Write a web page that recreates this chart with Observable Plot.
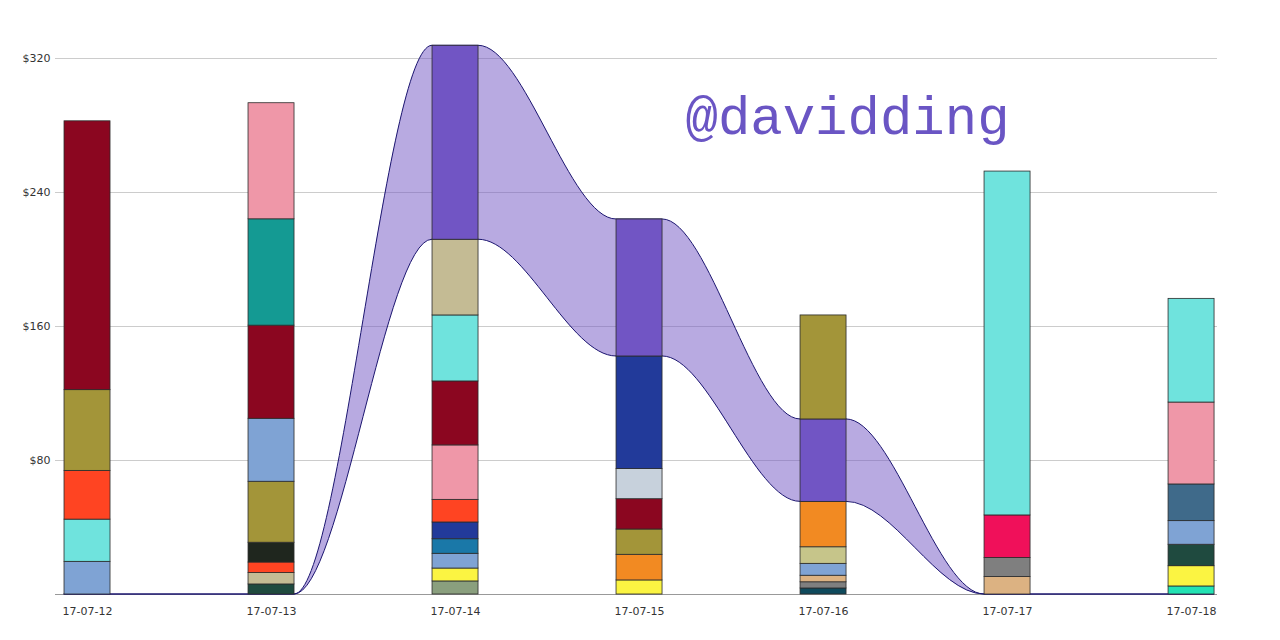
<!DOCTYPE html>
<html>
<head>
<meta charset="utf-8">
<script src="https://cdn.jsdelivr.net/npm/d3@7"></script>
<script src="https://cdn.jsdelivr.net/npm/@observablehq/plot@0.6"></script>
<style>
  body { margin: 0; background: #fff; }
  #chart svg { display: block; }
</style>
</head>
<body>
<div id="chart"></div>
<script>
// ---- data ----
const dates = ["17-07-12", "17-07-13", "17-07-14", "17-07-15", "17-07-16", "17-07-17", "17-07-18"];
const yTicks = [80, 160, 240, 320];

// stacked contributors for each day, bottom to top
const cats_12 = ["cornflower", "turquoise", "vermilion", "olive", "darkred"];
const vals_12 = [19.5, 25.2, 29.1, 48.2, 160.5];

const cats_13 = ["forest", "sand", "vermilion", "charcoal", "olive", "cornflower", "darkred", "teal", "pink"];
const vals_13 = [6.0, 6.8, 6.3, 11.8, 36.4, 37.6, 55.6, 63.5, 69.3];

const cats_14 = ["sage", "yellow", "cornflower", "cerulean", "navy", "vermilion", "pink", "darkred", "turquoise", "sand", "davidding"];
const vals_14 = [7.8, 7.7, 8.8, 8.7, 10.0, 13.5, 32.5, 38.2, 39.4, 45.2, 115.8];

const cats_15 = ["yellow", "orange", "olive", "darkred", "silver", "navy", "davidding"];
const vals_15 = [8.4, 15.3, 15.1, 18.1, 18.0, 67.2, 81.8];

const cats_16 = ["petrol", "gray", "peach", "cornflower", "khaki", "orange", "davidding", "olive"];
const vals_16 = [3.6, 3.7, 3.9, 7.1, 9.9, 27.1, 49.2, 62.1];

const cats_17 = ["peach", "gray", "crimson", "turquoise"];
const vals_17 = [10.4, 11.4, 25.4, 205.3];

const cats_18 = ["aqua", "yellow", "forest", "cornflower", "steel", "pink", "turquoise"];
const vals_18 = [4.8, 12.1, 12.8, 14.1, 21.9, 48.9, 61.9];

const categories = ["darkred", "olive", "vermilion", "turquoise", "cornflower", "pink", "teal", "charcoal",
  "sand", "forest", "davidding", "navy", "cerulean", "yellow", "sage", "silver", "orange", "khaki",
  "peach", "gray", "petrol", "crimson", "steel", "aqua"];
const colors = ["#8b0620", "#a39539", "#ff4422", "#6fe3dd", "#7fa3d4", "#ef97a8", "#149a93", "#1f261e",
  "#c4bb94", "#1f4a3f", "#7155c4", "#223a9a", "#1a78a8", "#fbf442", "#8a9f7e", "#c7d1dc", "#f28a22", "#c6c58a",
  "#dcb282", "#7f7f7f", "#0f4a5c", "#f0105a", "#3f6a8a", "#22e2b4"];

const highlight = "davidding";

// ---- derived tables ----
const columns = [[cats_12, vals_12], [cats_13, vals_13], [cats_14, vals_14], [cats_15, vals_15],
  [cats_16, vals_16], [cats_17, vals_17], [cats_18, vals_18]];

const segments = columns.flatMap(([cats, vals], i) => {
  let acc = 0;
  return cats.map((c, j) => {
    const y1 = acc;
    acc += vals[j];
    return {i, date: dates[i], cat: c, y1, y2: acc};
  });
});

const half = 0.125; // half bar width in x units
const flow = dates.flatMap((d, i) => {
  const s = segments.find(t => t.i === i && t.cat === highlight);
  const y1 = s ? s.y1 : 0, y2 = s ? s.y2 : 0;
  return [{x: i - half, y1, y2}, {x: i + half, y1, y2}];
});

const chart = Plot.plot({
  width: 1280,
  height: 640,
  marginLeft: 55,
  marginRight: 63,
  marginTop: 58,
  marginBottom: 46,
  style: {fontFamily: "DejaVu Sans, sans-serif", fontSize: "11px", color: "#333", background: "#fff"},
  x: {type: "linear", domain: [-0.174, 6.141]},
  y: {domain: [0, 320]},
  color: {domain: categories, range: colors},
  marks: [
    Plot.gridY(yTicks, {stroke: "#cccccc", strokeOpacity: 1}),
    Plot.axisY(yTicks, {tickFormat: d => "$" + d, tickSize: 0, tickPadding: 5, fontSize: 11}),
    Plot.axisX(d3.range(dates.length), {tickFormat: i => dates[i], tickSize: 0, tickPadding: 13, fontSize: 11, label: null}),
    Plot.ruleY([0], {stroke: "#999"}),
    Plot.area(flow, {x1: "x", y1: "y1", y2: "y2", curve: "monotone-x",
      fill: "#7155c4", fillOpacity: 0.5, stroke: "#1c1670", strokeWidth: 1}),
    Plot.rect(segments, {x1: d => d.i - half, x2: d => d.i + half, y1: "y1", y2: "y2",
      fill: "cat", stroke: "#2b2b2b", strokeWidth: 0.8}),
    Plot.text(["@davidding"], {text: d => d, frameAnchor: "top-left", dx: 630, dy: 75,
      textAnchor: "start", lineAnchor: "bottom", fontSize: 54,
      fontFamily: "Liberation Mono, monospace", fill: "#6a55c4"})
  ]
});

document.getElementById("chart").appendChild(chart);
</script>
</body>
</html>
